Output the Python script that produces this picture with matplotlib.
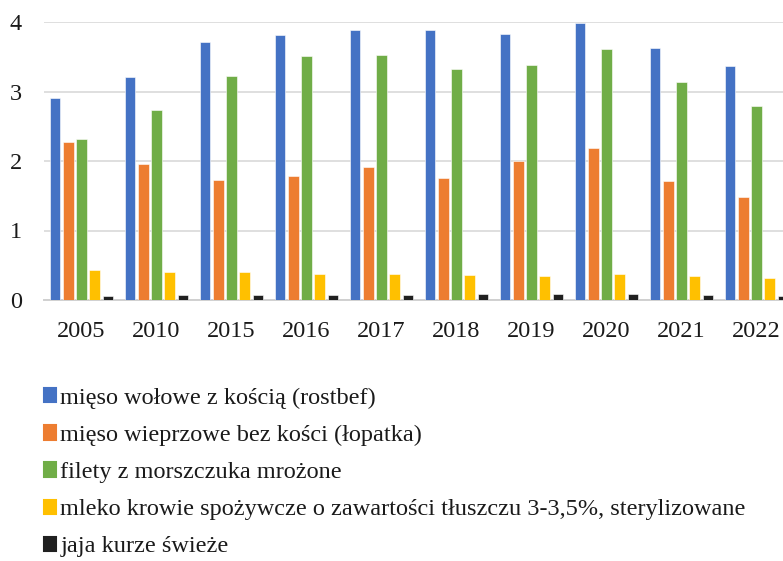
import matplotlib.pyplot as plt
import numpy as np

plt.rcParams['font.family'] = ['Liberation Serif', 'DejaVu Serif']

# Data
years = ['2005', '2010', '2015', '2016', '2017', '2018', '2019', '2020', '2021', '2022']
beef = [2.90, 3.21, 3.71, 3.82, 3.89, 3.89, 3.83, 3.98, 3.62, 3.36]
pork = [2.28, 1.96, 1.72, 1.79, 1.92, 1.75, 2.00, 2.19, 1.71, 1.48]
hake = [2.31, 2.74, 3.23, 3.51, 3.52, 3.33, 3.38, 3.61, 3.14, 2.79]
milk = [0.43, 0.41, 0.40, 0.38, 0.38, 0.36, 0.35, 0.38, 0.34, 0.32]
eggs = [0.06, 0.07, 0.07, 0.07, 0.07, 0.08, 0.08, 0.08, 0.07, 0.06]

labels = ['mięso wołowe z kością (rostbef)',
          'mięso wieprzowe bez kości (łopatka)',
          'filety z morszczuka mrożone',
          'mleko krowie spożywcze o zawartości tłuszczu 3-3,5%, sterylizowane',
          'jaja kurze świeże']
colors = ['#4472C4', '#ED7D31', '#70AD47', '#FFC000', '#202020']
series = [beef, pork, hake, milk, eggs]

fig = plt.figure(figsize=(7.83, 5.61), dpi=100)
# plot area runs slightly past the right edge, like the source image
ax = fig.add_axes([44 / 783, 1 - 300 / 561, 750 / 783, 278 / 561])

x = np.arange(len(years))
step = 0.176
width = 0.14
for i, (vals, col, lab) in enumerate(zip(series, colors, labels)):
    ax.bar(x + (i - 2) * step, vals, width, color=col, label=lab,
           edgecolor='white', linewidth=0.4, zorder=3)

ax.set_xlim(-0.5, len(years) - 0.5)
ax.set_ylim(0, 4)
ax.set_yticks([0, 1, 2, 3, 4])
ax.set_xticks(x)
ax.set_xticklabels(years)
ax.grid(axis='y', color='#D9D9D9', linewidth=1.2, zorder=0)
ax.tick_params(length=0, labelsize=17.5, colors='#1a1a1a')
ax.tick_params(axis='x', pad=15)
ax.tick_params(axis='y', pad=16)
for s in ['left', 'right', 'top']:
    ax.spines[s].set_visible(False)
ax.spines['bottom'].set_color('#D0D0D0')
ax.spines['bottom'].set_linewidth(1.4)

leg = fig.legend(loc='upper left', bbox_to_anchor=(34 / 783, 1 - 378 / 561),
                 frameon=False, fontsize=17.5, handlelength=0.52,
                 handleheight=0.52, handletextpad=0.16, labelspacing=0.66,
                 borderaxespad=0, labelcolor='#1a1a1a')
# slightly bigger square keys
for h in leg.legend_handles:
    h.set_edgecolor(h.get_facecolor())
    h.set_linewidth(1.5)

fig.savefig('out.png', dpi=100)
